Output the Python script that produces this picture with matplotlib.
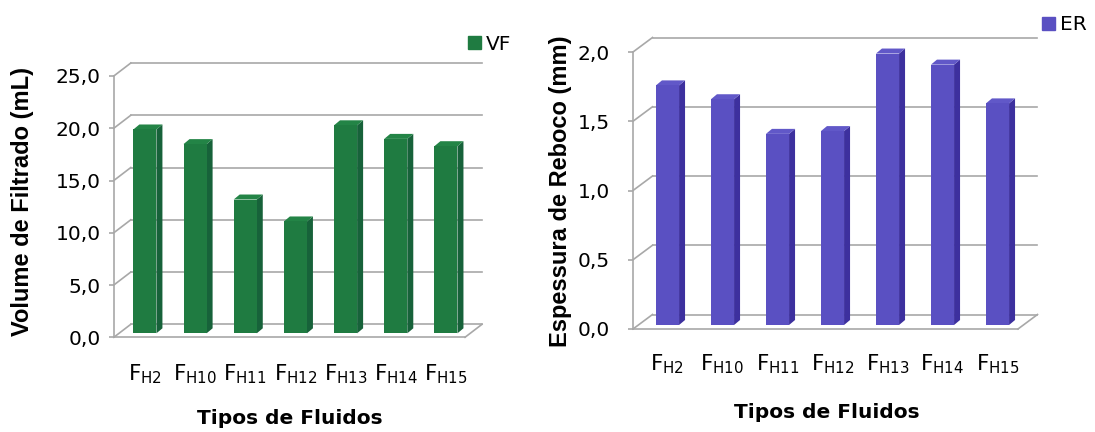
import numpy as np
import matplotlib
matplotlib.use('Agg')
from matplotlib import pyplot as plt
from matplotlib.patches import Polygon, Patch

# Filtrate volume (mL) and filter cake thickness (mm) per fluid
fluids = ['H2', 'H10', 'H11', 'H12', 'H13', 'H14', 'H15']
tick_labels = [r'$\mathregular{F_{%s}}$' % f for f in fluids]
vf = [19.5, 18.1, 12.8, 10.7, 19.9, 18.6, 17.9]
er = [1.73, 1.63, 1.38, 1.40, 1.96, 1.88, 1.60]

W, H, DPI = 1095, 432, 100
GRID = '#a8a8a8'

fig = plt.figure(figsize=(W / DPI, H / DPI), dpi=DPI)


def px_box(left, right, top, bottom):
    # axes rect from pixel edges (y measured from the top)
    return [left / W, (H - bottom) / H, (right - left) / W, (bottom - top) / H]


def pseudo_3d_bars(ax, values, ymax, step, width, color, side, top,
                   wall, shift, depth, label_pad, ytick_pad):
    n = len(values)
    x = np.arange(n)
    x0, x1 = -0.5, n - 0.5
    ax.set_xlim(x0, x1)
    ax.set_ylim(0, ymax)

    # pixel -> data conversion for the depth offsets
    bb = ax.get_position()
    sx = (x1 - x0) / (bb.width * W)
    sy = ymax / (bb.height * H)
    wx, wy = wall[0] * sx, wall[1] * sy
    ox, oy = shift[0] * sx, shift[1] * sy
    dx, dy = depth[0] * sx, depth[1] * sy

    kw = dict(color=GRID, lw=1.2, clip_on=False, zorder=1)
    ticks = np.arange(0, ymax + step / 2, step)
    for t in ticks:
        # back wall gridline and side wall diagonal
        ax.plot([x0 + wx, x1 + wx], [t + wy, t + wy], **kw)
        ax.plot([x0, x0 + wx], [t, t + wy], **kw)
    # floor right edge
    ax.plot([x1, x1 + wx], [0, wy], **kw)

    # columns: front face, side face, top face
    xc = x + ox
    ax.bar(xc, values, width=width, bottom=oy, color=color, zorder=3)
    for xi, v in zip(xc, values):
        xl, xr = xi - width / 2, xi + width / 2
        yt = oy + v
        ax.add_patch(Polygon([(xr, oy), (xr, yt), (xr + dx, yt + dy), (xr + dx, oy + dy)],
                             closed=True, color=side, lw=0, zorder=2, clip_on=False))
        ax.add_patch(Polygon([(xl, yt), (xr, yt), (xr + dx, yt + dy), (xl + dx, yt + dy)],
                             closed=True, color=top, lw=0, zorder=2, clip_on=False))

    for s in ('top', 'right'):
        ax.spines[s].set_visible(False)
    for s in ('left', 'bottom'):
        ax.spines[s].set_color(GRID)
        ax.spines[s].set_linewidth(1.2)

    ax.set_yticks(ticks)
    ax.set_yticklabels([('%.1f' % t).replace('.', ',') for t in ticks])
    ax.tick_params(axis='y', direction='out', length=5 * 72 / DPI, width=1.2,
                   color=GRID, labelsize=14.5, pad=ytick_pad)
    ax.set_xticks(xc)
    ax.set_xticklabels(tick_labels)
    ax.tick_params(axis='x', length=0, labelsize=15.5, pad=label_pad)
    ax.set_facecolor('none')


ax1 = fig.add_axes(px_box(113.8, 465, 76, 337.3))
pseudo_3d_bars(ax1, vf, 25, 5, 0.46, '#1f7b41', '#17623a', '#238446',
               wall=(17, 13), shift=(6, 4), depth=(6, 5),
               label_pad=18, ytick_pad=6)

ax2 = fig.add_axes(px_box(633, 1018, 52, 329))
pseudo_3d_bars(ax2, er, 2.0, 0.5, 0.42, '#5a50c2', '#3d309e', '#6158c8',
               wall=(19.5, 14.5), shift=(7, 4), depth=(6, 5),
               label_pad=17, ytick_pad=13)

# axis titles
ylab = dict(rotation=90, ha='center', va='center', fontsize=17,
            fontweight='bold', family='Liberation Sans')
fig.text(22.4 / W, 1 - 201 / H, 'Volume de Filtrado (mL)', **ylab)
fig.text(561 / W, 1 - 191 / H, 'Espessura de Reboco (mm)', **ylab)
xlab = dict(ha='center', va='center', fontsize=14.5, fontweight='bold')
fig.text(290 / W, 1 - 419 / H, 'Tipos de Fluidos', **xlab)
fig.text(827 / W, 1 - 413 / H, 'Tipos de Fluidos', **xlab)

# series keys
leg = dict(loc='center left', frameon=False, fontsize=14.5, handlelength=0.65,
           handleheight=0.65, handletextpad=0.25, borderpad=0, borderaxespad=0)
fig.legend(handles=[Patch(color='#1f7b41', label='VF')],
           bbox_to_anchor=(468 / W, 1 - 44 / H), **leg)
fig.legend(handles=[Patch(color='#5a50c2', label='ER')],
           bbox_to_anchor=(1042 / W, 1 - 25 / H), **leg)

fig.savefig('out.png', dpi=DPI, facecolor='white')
